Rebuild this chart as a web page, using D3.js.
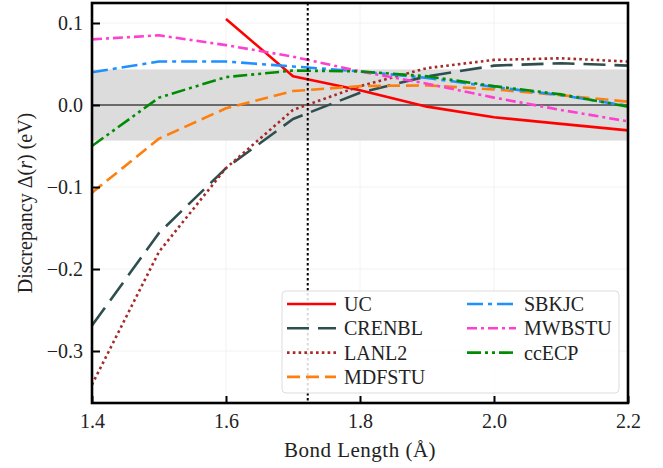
<!DOCTYPE html>
<html><head><meta charset="utf-8">
<script src="https://cdn.jsdelivr.net/npm/d3@7"></script>
<style>body{margin:0;background:#fff}svg{display:block}text{font-family:"Liberation Serif","DejaVu Serif",serif;fill:#222}</style>
</head><body><svg id="c" width="663" height="468"></svg>
<script>
const bond = [1.4,1.5,1.6,1.7,1.8,1.9,2.0,2.1,2.2];
const UC     = [null,null,0.105,0.035,0.018,-0.002,-0.015,-0.023,-0.031];
const CRENBL = [-0.269,-0.156,-0.077,-0.017,0.015,0.035,0.048,0.051,0.048];
const LANL2  = [-0.341,-0.179,-0.077,-0.006,0.023,0.045,0.055,0.057,0.053];
const MDFSTU = [-0.107,-0.041,-0.004,0.017,0.023,0.024,0.019,0.012,0.004];
const SBKJC  = [0.040,0.053,0.053,0.047,0.041,0.033,0.022,0.012,-0.001];
const MWBSTU = [0.080,0.085,0.073,0.059,0.041,0.026,0.009,-0.006,-0.020];
const ccECP  = [-0.050,0.009,0.034,0.042,0.041,0.035,0.023,0.013,-0.002];
const seriesNames = ["UC","CRENBL","LANL2","MDFSTU","SBKJC","MWBSTU","ccECP"];
const seriesValues = [UC,CRENBL,LANL2,MDFSTU,SBKJC,MWBSTU,ccECP];
const colors = ["#ff0000","#2f4f4f","#a52a2a","#ff7f0e","#1e90ff","#ff3fcf","#008c00"];
const dashes = ["none","22,9","2.6,3.2","13,6","16,5,4,5","10,4,3,4","14,4,3,4,3,4"];
const xTicks = [1.4,1.6,1.8,2.0,2.2];
const yTicks = [-0.3,-0.2,-0.1,0.0,0.1];
const bandHalf = 0.0434;
const refBond = 1.722;

const L=92,R=628,T=3,B=403;
const svg=d3.select("#c");
const x=d3.scaleLinear().domain([1.4,2.2]).range([L,R]);
const y=d3.scaleLinear().domain([-0.3634,0.1244]).range([B,T]);
const fmt=d=>d3.format(".1f")(d).replace("-","\u2212");

svg.append("defs").append("clipPath").attr("id","clip").append("rect")
  .attr("x",L).attr("y",T).attr("width",R-L).attr("height",B-T);

// grid
const g=svg.append("g");
g.selectAll(".gx").data(xTicks).join("line").attr("x1",d=>x(d)).attr("x2",d=>x(d)).attr("y1",T).attr("y2",B).attr("stroke","#f2f2f2").attr("stroke-width",1);
g.selectAll(".gy").data(yTicks).join("line").attr("y1",d=>y(d)).attr("y2",d=>y(d)).attr("x1",L).attr("x2",R).attr("stroke","#f2f2f2").attr("stroke-width",1);

// band
svg.append("rect").attr("x",L).attr("width",R-L).attr("y",y(bandHalf)).attr("height",y(-bandHalf)-y(bandHalf)).attr("fill","#dcdcdc");
// zero line
svg.append("line").attr("x1",L).attr("x2",R).attr("y1",y(0)).attr("y2",y(0)).attr("stroke","#444").attr("stroke-width",1.6);

const line=d3.line().defined(d=>d[1]!=null).x(d=>x(d[0])).y(d=>y(d[1]));
const lg=svg.append("g").attr("clip-path","url(#clip)");
seriesValues.forEach((vals,i)=>{
  lg.append("path").datum(bond.map((b,j)=>[b,vals[j]])).attr("d",line)
    .attr("fill","none").attr("stroke",colors[i]).attr("stroke-width",2.6)
    .attr("stroke-dasharray",dashes[i]).attr("stroke-linejoin","round");
});
// vertical reference
svg.append("line").attr("x1",x(refBond)).attr("x2",x(refBond)).attr("y1",T).attr("y2",B)
  .attr("stroke","#000").attr("stroke-width",2).attr("stroke-dasharray","2.5,2.5");

// axes
const xa=svg.append("g").attr("transform",`translate(0,${B})`)
  .call(d3.axisBottom(x).tickValues(xTicks).tickFormat(fmt).tickSizeInner(-7).tickSizeOuter(0).tickPadding(11));
const ya=svg.append("g").attr("transform",`translate(${L},0)`)
  .call(d3.axisLeft(y).tickValues(yTicks).tickFormat(fmt).tickSizeInner(-8).tickSizeOuter(0).tickPadding(9));
[xa,ya].forEach(a=>{a.select(".domain").remove();a.selectAll("line").attr("stroke","#000").attr("stroke-width",2);
  a.selectAll("text").style("font-size","20px").attr("fill","#222");});

// frame
svg.append("rect").attr("x",L).attr("y",T).attr("width",R-L).attr("height",B-T).attr("fill","none").attr("stroke","#000").attr("stroke-width",2.6);

// labels
svg.append("text").attr("x",(L+R)/2).attr("y",457).attr("text-anchor","middle").style("font-size","21px").style("letter-spacing","0.5px").text("Bond Length (Å)");
const yl=svg.append("text").attr("transform",`translate(32,${(T+B)/2}) rotate(-90)`).attr("text-anchor","middle").style("font-size","20px");
yl.append("tspan").text("Discrepancy Δ(");
yl.append("tspan").style("font-style","italic").text("r");
yl.append("tspan").text(") (eV)");

// legend
const leg=svg.append("g");
leg.append("rect").attr("x",282).attr("y",291).attr("width",337).attr("height",102).attr("rx",4)
  .attr("fill","#fff").attr("fill-opacity",0.85).attr("stroke","#dddddd").attr("stroke-width",1);
seriesNames.forEach((n,i)=>{
  const col=i<4?0:1, row=i<4?i:i-4;
  const lx=col?467:287, ty=304+row*24.3;
  leg.append("line").attr("x1",lx).attr("x2",lx+49).attr("y1",ty).attr("y2",ty)
    .attr("stroke",colors[i]).attr("stroke-width",2.6).attr("stroke-dasharray",dashes[i]);
  leg.append("text").attr("x",lx+57).attr("y",ty).attr("dy","0.35em").style("font-size","20px").text(n);
});
</script></body></html>
